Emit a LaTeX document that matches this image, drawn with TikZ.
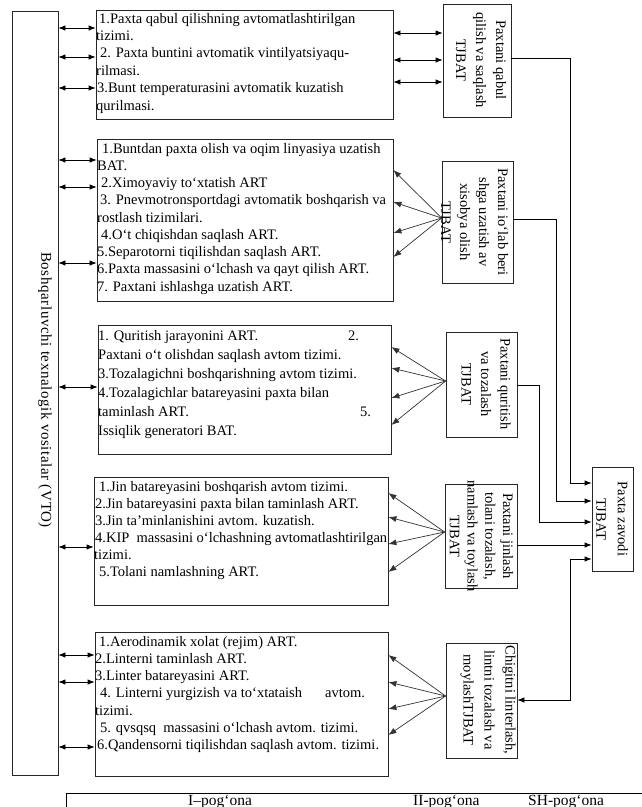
\documentclass[tikz,border=0pt]{standalone}
\usepackage{fontspec}
\setmainfont{Liberation Serif}
\newfontfamily\spacedfont[LetterSpace=4]{Liberation Serif}
\usetikzlibrary{arrows.meta}
\newcommand\fsA{\fontsize{14.5}{17}\selectfont}
\begin{document}
\begin{tikzpicture}[x=1pt,y=-1pt,
  box/.style={draw=black!85, line width=0.8pt, inner sep=0pt},
  txt/.style={anchor=base west, inner sep=0pt, font=\fsA},
  vtxt/.style={rotate=-90, align=center, inner sep=0pt},
  dbl/.style={{Latex[length=7pt,width=5.5pt]}-{Latex[length=7pt,width=5.5pt]}, line width=0.8pt},
  fan/.style={-{Latex[length=8pt,width=6pt]}, line width=0.7pt, black!80},
  one/.style={-{Latex[length=7pt,width=5.5pt]}, line width=0.8pt},
  plain/.style={line width=0.8pt}]
\useasboundingbox (0,0) rectangle (642,807);
\fill[white] (0,0) rectangle (642,807);

% boxes
\node[box, minimum width=46pt, minimum height=764pt] (L) at (35,393) {};
\node[box, minimum width=297pt, minimum height=109pt] (B1) at (244.5,64.5) {};
\node[box, minimum width=296pt, minimum height=162pt] (B2) at (245,220) {};
\node[box, minimum width=293pt, minimum height=129pt] (B3) at (244.5,389.5) {};
\node[box, minimum width=294pt, minimum height=128pt] (B4) at (241,541) {};
\node[box, minimum width=293pt, minimum height=144pt] (B5) at (241.5,704) {};
\node[box, minimum width=68pt, minimum height=113pt] (T1) at (477,60.5) {};
\node[box, minimum width=71pt, minimum height=122pt] (T2) at (477.5,222) {};
\node[box, minimum width=71pt, minimum height=105pt] (T3) at (481.5,384.5) {};
\node[box, minimum width=72pt, minimum height=104pt] (T4) at (481,536) {};
\node[box, minimum width=71pt, minimum height=115pt] (T5) at (481.5,700.5) {};
\node[box, minimum width=41pt, minimum height=104pt] (Z) at (612.5,519) {};

% left text
\node[vtxt, font={\spacedfont\fontsize{15}{18}\selectfont}] (Ltxt) at (45,390) {Boshqarluvchi texnalogik vositalar (VTO)};

% vertical texts in TJBAT boxes
\node[vtxt, font={\fontsize{14.5}{20}\selectfont}] (T1t) at (481,60) {Paxtani qabul\\qilish va saqlash\\TJBAT};
\node[vtxt, font={\fontsize{14.5}{19}\selectfont}] (T2t) at (474.5,222) {Paxtani io‘lab beri\\shga uzatish av\\xisobya olish\\TJBAT};
\node[vtxt, font={\fontsize{14.5}{19.5}\selectfont}] (T3t) at (486,384) {Paxtani quritish\\va tozalash\\TJBAT};
\node[vtxt, font={\fontsize{14.5}{17.7}\selectfont}] (T4t) at (481.5,536) {Paxtani jinlash\\tolani tozalash,\\namlash va toylash\\TJBAT};
\node[vtxt, font={\fontsize{14.5}{21}\selectfont}] (T5t) at (488,700) {Chigitni linterlash,\\lintni tozalash va\\moylashTJBAT};
\node[vtxt, font={\fontsize{14.5}{21.5}\selectfont}] (Zt) at (612,519) {Paxta zavodi\\TJBAT};

% box 1 text
\node[txt] (b1a) at (99,23) {1.Paxta qabul qilishning avtomatlashtirilgan};
\node[txt] (b1b) at (96,40.4) {tizimi.};
\node[txt] (b1c) at (100,57.8) {2. Paxta buntini avtomatik vintilyatsiyaqu-};
\node[txt] (b1d) at (96,75.2) {rilmasi.};
\node[txt] (b1e) at (97,92.6) {3.Bunt temperaturasini avtomatik kuzatish};
\node[txt] (b1f) at (96,110) {qurilmasi.};

% box 2 text
\node[txt] (b2a) at (102,153) {1.Buntdan paxta olish va oqim linyasiya uzatish};
\node[txt] (b2b) at (97,170.25) {BAT.};
\node[txt] (b2c) at (101,187.5) {2.Ximoyaviy to‘xtatish ART};
\node[txt] (b2d) at (100,204.75) {3. Pnevmotronsportdagi avtomatik boshqarish va};
\node[txt] (b2e) at (97,222) {rostlash tizimilari.};
\node[txt] (b2f) at (101,239.25) {4.O‘t chiqishdan saqlash ART.};
\node[txt] (b2g) at (97,256.5) {5.Separotorni tiqilishdan saqlash ART.};
\node[txt] (b2h) at (97,273.75) {6.Paxta massasini o‘lchash va qayt qilish ART.};
\node[txt] (b2i) at (97,291) {7. Paxtani ishlashga uzatish ART.};

% box 3 text
\node[txt] (b3a) at (98,340) {\makebox[250pt][l]{1. Quritish jarayonini ART.}2.};
\node[txt] (b3b) at (98,359) {Paxtani o‘t olishdan saqlash avtom tizimi.};
\node[txt] (b3c) at (98,378) {3.Tozalagichni boshqarishning avtom tizimi.};
\node[txt] (b3d) at (98,397) {4.Tozalagichlar batareyasini paxta bilan};
\node[txt] (b3e) at (98,416) {\makebox[262pt][l]{taminlash ART.}5.};
\node[txt] (b3f) at (98,435) {Issiqlik generatori BAT.};

% box 4 text
\node[txt] (b4a) at (99,491) {1.Jin batareyasini boshqarish avtom tizimi.};
\node[txt] (b4b) at (95,508) {2.Jin batareyasini paxta bilan taminlash ART.};
\node[txt] (b4c) at (95,525) {3.Jin ta’minlanishini avtom. kuzatish.};
\node[txt] (b4d) at (95,542) {4.KIP\ \ massasini o‘lchashning avtomatlashtirilgan};
\node[txt] (b4e) at (94,559) {tizimi.};
\node[txt] (b4f) at (99,576) {5.Tolani namlashning ART.};

% box 5 text
\node[txt] (b5a) at (99,646) {1.Aerodinamik xolat (rejim) ART.};
\node[txt] (b5b) at (95,663.3) {2.Linterni taminlash ART.};
\node[txt] (b5c) at (95,680.6) {3.Linter batareyasini ART.};
\node[txt] (b5d) at (100,697.9) {\makebox[225pt][l]{4. Linterni yurgizish va to‘xtataish}avtom.};
\node[txt] (b5e) at (95,715.2) {tizimi.};
\node[txt] (b5f) at (100,732.5) {5. qvsqsq\ \ massasini o‘lchash avtom. tizimi.};
\node[txt] (b5g) at (97,749.8) {6.Qandensorni tiqilishdan saqlash avtom. tizimi.};

% left double arrows
\foreach \y in {28,57,88} \draw[dbl] (L.east |- 0,\y) -- (B1.west |- 0,\y);
\foreach \y in {160,187,263} \draw[dbl] (L.east |- 0,\y) -- (B2.west |- 0,\y);
\draw[dbl] (L.east |- 0,387) -- (B3.west |- 0,387);
\draw[dbl] (L.east |- 0,547) -- (B4.west |- 0,547);
\foreach \y in {655,682,747} \draw[dbl] (L.east |- 0,\y) -- (B5.west |- 0,\y);

% box1 - T1 double arrows
\foreach \y in {33,60,82} \draw[dbl] (B1.east |- 0,\y) -- (T1.west |- 0,\y);

% fans
\foreach \y in {170,202,233,257} \draw[fan] (T2.west |- 0,218) -- (B2.east |- 0,\y);
\foreach \y in {347,368,398,425} \draw[fan] (T3.west |- 0,381) -- (B3.east |- 0,\y);
\foreach \y in {493,517,544,572} \draw[fan] (T4.west |- 0,532) -- (B4.east |- 0,\y);
\foreach \y in {655,682,709,735} \draw[fan] (T5.west |- 0,696) -- (B5.east |- 0,\y);

% bus to Paxta zavodi
\coordinate (c1) at (570,0);
\coordinate (c2) at (556,0);
\coordinate (c3) at (539,0);
\draw[one] (T1.east |- 0,58) -- (c1 |- 0,58) -- (c1 |- 0,483) -- (Z.west |- 0,483);
\draw[one] (T2.east |- 0,219) -- (c2 |- 0,219) -- (c2 |- 0,501) -- (Z.west |- 0,501);
\draw[one] (T3.east |- 0,385) -- (c3 |- 0,385) -- (c3 |- 0,522) -- (Z.west |- 0,522);
\draw[one] (T4.east |- 0,545) -- (Z.west |- 0,545);
\draw[dbl] (Z.west |- 0,559) -- (c1 |- 0,559) -- (c1 |- 0,700) -- (T5.east |- 0,700);

% bottom table
\draw[plain] (66,807) -- (66,793) -- (642,793);
\node[txt, font={\fontsize{15.5}{18}\selectfont}] (p1) at (188,805) {I–pog‘ona};
\node[txt, font={\fontsize{15.5}{18}\selectfont}] (p2) at (413,805) {II-pog‘ona};
\node[txt, font={\fontsize{15.5}{18}\selectfont}] (p3) at (528,805) {SH-pog‘ona};
\end{tikzpicture}
\end{document}
